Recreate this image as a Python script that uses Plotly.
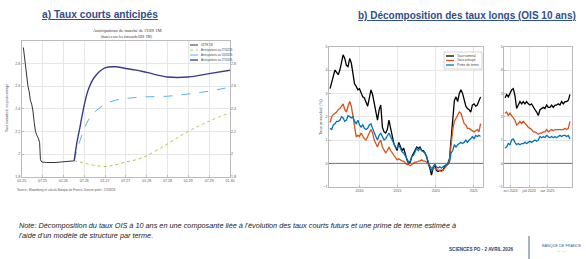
import plotly.graph_objects as go

W, H = 586, 259


def px(x):
    return x / W


def py(y):
    return 1 - y / H


# ---------------- Chart a) : anticipations OIS 1M ----------------
estr_t = [2025.04, 2025.07, 2025.10, 2025.13, 2025.15, 2025.18, 2025.21, 2025.24,
          2025.27, 2025.30, 2025.33, 2025.37, 2025.40, 2025.43, 2025.45, 2025.48,
          2025.60, 2025.80, 2026.00, 2026.15, 2026.26]
estr_v = [2.94, 2.84, 2.72, 2.68, 2.60, 2.55, 2.47, 2.44,
          2.38, 2.28, 2.20, 2.16, 2.14, 2.10, 1.95, 1.93,
          1.925, 1.925, 1.93, 1.935, 1.94]

fwd_t = [2026.26, 2026.32, 2026.40, 2026.50, 2026.60, 2026.75, 2027.00, 2027.25,
         2027.50, 2027.75, 2028.00, 2028.50, 2029.00, 2029.50, 2030.00]
fwd_1 = [1.94, 1.935, 1.93, 1.92, 1.91, 1.90, 1.89, 1.905,
         1.93, 1.95, 1.985, 2.09, 2.20, 2.29, 2.365]
fwd_2 = [1.94, 2.03, 2.12, 2.22, 2.30, 2.37, 2.44, 2.475,
         2.49, 2.50, 2.505, 2.51, 2.53, 2.555, 2.59]
fwd_3 = [1.94, 2.09, 2.24, 2.43, 2.57, 2.68, 2.76, 2.77,
         2.755, 2.74, 2.72, 2.68, 2.68, 2.71, 2.74]

a_names = ["€STR 1M", "Anticipations au 27/02/26", "Anticipations au 13/03/26",
           "Anticipations au 27/03/26"]
a_colors = ["#333333", "#9BC53D", "#4DB8E8", "#3A3A8C"]
a_tickvals = [2025.0, 2025.5, 2026.0, 2026.5, 2027.0, 2027.5, 2028.0, 2028.5,
              2029.0, 2029.5, 2030.0]
a_ticktext = ["01.25", "07.25", "01.26", "07.26", "01.27", "07.27", "01.28",
              "07.28", "01.29", "07.29", "01.30"]
a_yticks = [1.8, 2.0, 2.2, 2.4, 2.6, 2.8, 3.0]

# ---------------- Chart b) : décomposition OIS 10 ans ----------------
b1_t = [2006.137 + 0.2146 * i for i in range(93)]
b1_nominal = [3.2, 3.45, 3.7, 4.0, 3.9, 3.8, 4.0, 4.3, 4.65, 4.5, 4.2, 4.15, 4.5, 4.3,
              3.9, 3.4, 3.3, 3.15, 3.2, 3.0, 2.85, 2.8, 2.6, 2.45, 2.8, 3.15, 2.95, 2.6,
              2.2, 1.85, 2.3, 2.5, 1.55, 1.35, 1.3, 1.45, 1.85, 1.55, 1.15, 0.85, 0.7,
              0.55, 0.9, 0.7, 0.55, 0.65, 0.35, 0.15, 0.0, 0.05, 0.3, 0.45, 0.55, 0.7,
              0.65, 0.7, 0.55, 0.55, 0.45, 0.3, 0.0, -0.2, -0.5, -0.2, -0.05, -0.3,
              -0.35, -0.3, -0.3, -0.3, -0.15, -0.05, 0.0, 0.2, 1.15, 2.0, 2.7, 2.85,
              2.65, 3.0, 3.15, 3.0, 2.65, 2.45, 2.35, 2.3, 2.2, 2.5, 2.55, 2.45, 2.5,
              2.7, 2.85]
b1_anticipe = [1.75, 2.0, 2.1, 2.15, 2.2, 2.3, 2.35, 2.45, 2.55, 2.3, 2.2, 2.45, 2.65,
               2.45, 2.0, 1.45, 1.15, 1.2, 1.15, 1.3, 1.15, 1.05, 1.0, 1.15, 1.35, 1.45,
               1.3, 1.0, 0.85, 0.7, 0.9, 1.0, 0.7, 0.55, 0.45, 0.55, 0.7, 0.55, 0.45,
               0.35, 0.3, 0.15, 0.2, 0.15, 0.1, 0.1, 0.0, -0.05, -0.05, -0.1, -0.05,
               0.0, 0.05, 0.05, 0.1, 0.1, 0.15, 0.1, 0.1, 0.05, -0.05, -0.1, -0.2,
               -0.2, -0.2, -0.25, -0.3, -0.3, -0.35, -0.3, -0.2, -0.1, -0.05, 0.15,
               0.85, 1.45, 1.8, 1.95, 2.1, 2.2, 2.15, 1.95, 1.7, 1.65, 1.5, 1.5, 1.45,
               1.4, 1.35, 1.4, 1.45, 1.35, 1.7]
b1_prime = [1.5, 1.45, 1.65, 1.7, 1.8, 1.8, 1.85, 2.0, 1.95, 1.8, 1.85, 2.05, 2.0, 1.95,
            2.0, 1.8, 1.7, 1.85, 1.65, 1.55, 1.65, 1.5, 1.45, 1.5, 1.65, 1.7, 1.5, 1.3,
            1.15, 1.0, 1.2, 1.3, 1.15, 1.0, 1.05, 1.15, 1.3, 1.15, 1.0, 0.85, 0.7,
            0.65, 0.8, 0.65, 0.5, 0.45, 0.35, 0.2, 0.05, 0.1, 0.3, 0.35, 0.5, 0.65,
            0.55, 0.65, 0.55, 0.5, 0.45, 0.3, 0.05, -0.15, -0.35, -0.15, -0.05, -0.15,
            -0.2, -0.15, -0.2, -0.15, -0.1, -0.05, -0.05, 0.05, 0.45, 0.55, 0.8, 0.7,
            0.8, 0.85, 0.9, 0.85, 0.9, 1.0, 0.9, 1.0, 1.05, 1.15, 1.05, 1.2, 1.15,
            1.2, 1.15]

b2_t = [2023.527 + 0.0674 * i for i in range(40)]
b2_nominal = [2.8, 2.95, 2.85, 3.0, 3.15, 3.2, 2.9, 2.35, 2.5, 2.65, 2.55, 2.65, 2.55,
              2.65, 2.55, 2.5, 2.55, 2.4, 2.3, 2.2, 2.05, 2.3, 2.35, 2.4, 2.35, 2.5,
              2.4, 2.4, 2.5, 2.4, 2.5, 2.5, 2.55, 2.5, 2.65, 2.55, 2.65, 2.65, 2.7,
              2.95]
b2_anticipe = [2.15, 2.2, 2.05, 2.15, 2.05, 1.95, 1.85, 1.65, 1.7, 1.8, 1.7, 1.8, 1.7,
               1.65, 1.55, 1.5, 1.45, 1.35, 1.35, 1.3, 1.25, 1.3, 1.3, 1.35, 1.35,
               1.45, 1.35, 1.4, 1.45, 1.4, 1.45, 1.45, 1.45, 1.45, 1.45, 1.45, 1.5,
               1.45, 1.5, 1.8]
b2_prime = [0.65, 0.7, 0.85, 0.8, 1.0, 1.05, 0.9, 0.8, 0.85, 0.8, 0.85, 0.85, 0.9,
            0.85, 0.9, 0.95, 0.9, 0.95, 1.0, 0.95, 1.0, 1.15, 1.1, 1.15, 1.1, 1.2,
            1.15, 1.1, 1.15, 1.1, 1.15, 1.1, 1.15, 1.2, 1.15, 1.2, 1.2, 1.15, 1.2,
            1.05]

b_names = ["Taux nominal", "Taux anticipé", "Prime de terme"]
b_colors = ["#000000", "#D95319", "#0072BD"]
b1_tickvals = [2010, 2015, 2020, 2025]
b1_ticktext = ["2010", "2015", "2020", "2025"]
b2_tickvals = [2023.75, 2024.5, 2025.25]
b2_ticktext = ["oct 2023", "juil 2024", "avr 2025"]
b_yticks = [-1, 0, 1, 2, 3, 4, 5]

# ---------------- Figure ----------------
fig = go.Figure()

TICKF = dict(family="Liberation Sans, Arial", size=3.6, color="#555555")
GRID = "#E6E6E6"
BOX = "#BBBBBB"

# chart a
a_series = [(estr_t, estr_v), (fwd_t, fwd_1), (fwd_t, fwd_2), (fwd_t, fwd_3)]
a_dash = ["solid", "dot", "dash", "solid"]
a_width = [1.0, 0.9, 1.0, 1.4]
for (tx, vy), c, d, w in zip(a_series, a_colors, a_dash, a_width):
    fig.add_trace(go.Scatter(x=tx, y=vy, mode="lines", xaxis="x", yaxis="y",
                             line=dict(color=c, width=w, dash=d, shape="spline"
                                       if tx is fwd_t else "linear"),
                             showlegend=False, hoverinfo="skip"))
# invisible trace for the right-hand axis of chart a
fig.add_trace(go.Scatter(x=estr_t, y=estr_v, mode="lines", xaxis="x", yaxis="y4",
                         line=dict(width=0, color="rgba(0,0,0,0)"), showlegend=False,
                         hoverinfo="skip"))

# chart b panels
for tx, series, xa, ya in [(b1_t, [b1_nominal, b1_anticipe, b1_prime], "x2", "y2"),
                           (b2_t, [b2_nominal, b2_anticipe, b2_prime], "x3", "y3")]:
    for vals, c in zip(series, b_colors):
        fig.add_trace(go.Scatter(x=tx, y=vals, mode="lines", xaxis=xa, yaxis=ya,
                                 line=dict(color=c, width=1.3), showlegend=False,
                                 hoverinfo="skip"))

ax_common = dict(showline=True, mirror=True, linecolor=BOX, linewidth=0.6,
                 ticks="inside", ticklen=2, tickcolor=BOX, tickfont=TICKF,
                 showgrid=True, gridcolor=GRID, gridwidth=0.5, zeroline=False,
                 automargin=False)

fig.update_layout(
    width=W, height=H, margin=dict(l=0, r=0, t=0, b=0),
    paper_bgcolor="white", plot_bgcolor="white", showlegend=False,
    xaxis=dict(domain=[px(21.7), px(230)], range=[2025.0, 2030.0],
               tickvals=a_tickvals, ticktext=a_ticktext, anchor="y", **ax_common),
    yaxis=dict(domain=[py(176.7), py(40.7)], range=[1.8, 3.0], tickvals=a_yticks,
               ticktext=["1.8", "2", "2.2", "2.4", "2.6", "2.8", ""], anchor="x",
               **ax_common),
    yaxis4=dict(overlaying="y", side="right", range=[1.8, 3.0], tickvals=a_yticks,
                ticktext=["1.8", "2", "2.2", "2.4", "2.6", "2.8", ""], anchor="x",
                showgrid=False, zeroline=False, ticks="", tickfont=TICKF,
                showline=False, automargin=False),
    xaxis2=dict(domain=[px(329), px(483)], range=[2006.0, 2026.2],
                tickvals=b1_tickvals, ticktext=b1_ticktext, anchor="y2", **ax_common),
    yaxis2=dict(domain=[py(186.7), py(46.7)], range=[-1, 5], tickvals=b_yticks,
                anchor="x2", **ax_common),
    xaxis3=dict(domain=[px(504.3), px(572.3)], range=[2023.5, 2026.25],
                tickvals=b2_tickvals, ticktext=b2_ticktext, anchor="y3", **ax_common),
    yaxis3=dict(domain=[py(186.7), py(46.7)], range=[-1, 5], tickvals=b_yticks,
                anchor="x3", **ax_common),
)

# zero lines in the b panels
for xr, yr in [("x2 domain", "y2"), ("x3 domain", "y3")]:
    fig.add_shape(type="line", xref=xr, yref=yr, x0=0, x1=1, y0=0, y1=0,
                  line=dict(color="#555555", width=0.8))

ann = []


def text(x, y, s, size, color="#333333", family="Liberation Sans, Arial",
         xanchor="center", yanchor="middle", angle=0):
    ann.append(dict(x=px(x), y=py(y), xref="paper", yref="paper", text=s,
                    showarrow=False, xanchor=xanchor, yanchor=yanchor, textangle=angle,
                    font=dict(size=size, color=color, family=family)))


TITLE_BLUE = "#2F4E8F"
text(100, 15, "<u><b>a) Taux courts anticipés</b></u>", 10.2, TITLE_BLUE)
text(467, 16, "<u><b>b) Décomposition des taux longs (OIS 10 ans)</b></u>", 10.0,
     TITLE_BLUE)

text(127, 31, "Anticipations de marché de l'OIS 1M", 4.6, "#333333",
     "Liberation Serif, Times New Roman")
text(127, 36.5, "(basées sur les forwards OIS 1M)", 3.8, "#333333",
     "Liberation Serif, Times New Roman")
text(7, 108, "Taux annualisé, en pourcentage", 3.4, "#555555", angle=-90)
text(15, 190, "Source : Bloomberg et calculs Banque de France. Dernier point : 27/03/26",
     3.0, "#555555", xanchor="left")
text(320, 117, "Taux annualisé (%)", 4.2, "#555555", angle=-90)


def legend(x0, ys, names, colors, linelen, size, widths, dashes):
    for yy, n, c, w, d in zip(ys, names, colors, widths, dashes):
        fig.add_shape(type="line", xref="paper", yref="paper", x0=px(x0),
                      x1=px(x0 + linelen), y0=py(yy), y1=py(yy),
                      line=dict(color=c, width=w, dash=d))
        text(x0 + linelen + 1.2, yy, n, size, "#444444", xanchor="left")


legend(190, [45, 50, 55, 60], a_names, a_colors, 8, 2.8, [1.0, 0.9, 1.0, 1.3],
       ["solid", "dot", "dash", "solid"])
fig.add_shape(type="rect", xref="paper", yref="paper", x0=px(444), x1=px(482),
              y0=py(69), y1=py(52), line=dict(color="#AAAAAA", width=0.5),
              fillcolor="white", layer="above")
legend(446, [56, 60.5, 65], b_names, b_colors, 8, 3.2, [1.3, 1.3, 1.3],
       ["solid", "solid", "solid"])

# note and footer
text(17, 225, "<i>Note: Décomposition du taux OIS à 10 ans en une composante liée à "
     "l'évolution des taux courts futurs et une prime de terme estimée à</i>", 7.3,
     "#222222", xanchor="left")
text(17, 235.5, "<i>l'aide d'un modèle de structure par terme.</i>", 7.3, "#222222",
     xanchor="left")
text(515, 249, "<b>SCIENCES PO - 2 AVRIL 2026</b>", 4.6, "#2A3F6E", xanchor="right")
fig.add_shape(type="line", xref="paper", yref="paper", x0=px(529), x1=px(529),
              y0=py(236), y1=py(259), line=dict(color="#2A3F6E", width=0.8))
text(561, 246, "BANQUE DE FRANCE", 3.8, "#3C5A96")
text(561, 241, "· · · ·", 3, "#8C9BBF")
text(561, 251, "— · —", 3, "#8C9BBF")

fig.update_layout(annotations=ann)
fig.write_html(
    "out.html",
    config={"displayModeBar": False},
    post_script="document.body.style.margin='0';document.body.style.overflow='hidden';",
)
